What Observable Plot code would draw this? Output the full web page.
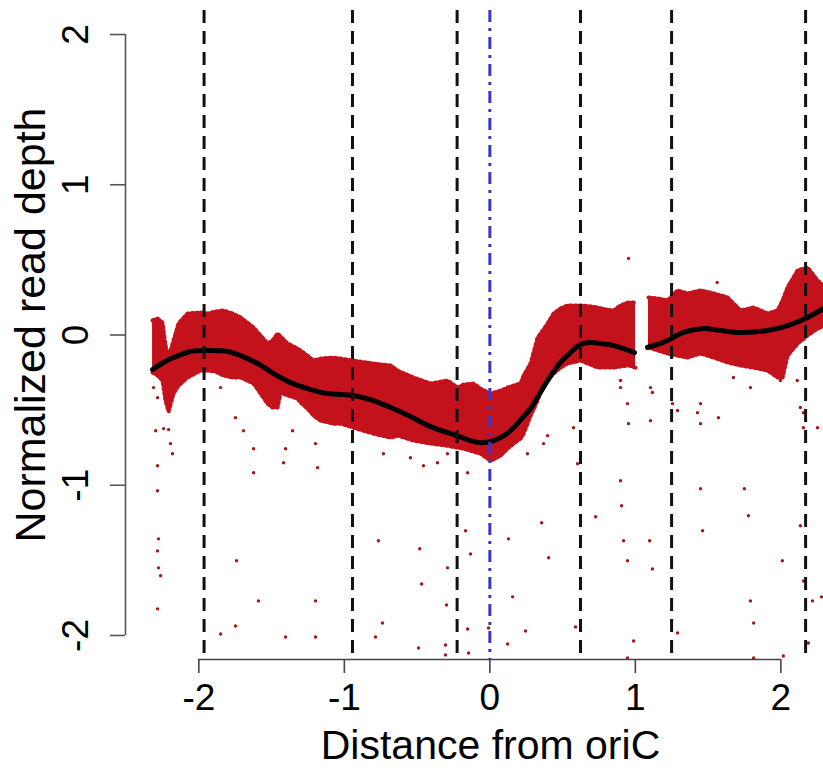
<!DOCTYPE html>
<html><head><meta charset="utf-8">
<script src="https://cdn.jsdelivr.net/npm/d3@7"></script>
<script src="https://cdn.jsdelivr.net/npm/@observablehq/plot@0.6"></script>
<style>body{margin:0;background:#fff} svg{display:block}</style>
</head><body><div id="chart"></div>
<script>
// ---- axes ----
const xTicks = [-2, -1, 0, 1, 2];
const yTicks = [-2, -1, 0, 1, 2];
const xDomain = [-2.504, 2.293];
const yDomain = [-2.16, 2.16];
const xLabel = "Distance from oriC";
const yLabel = "Normalized read depth";

// ---- reference lines ----
const dashedX = [-1.964, -0.944, -0.225, 0.623, 1.249, 2.170];
const oriCX = [0];

// ---- dense band of read depth (upper / lower envelope), left arm ----
const bandLeftX  = [-2.318,-2.284,-2.250,-2.229,-2.208,-2.174,-2.140,-2.078,-1.988,-1.940,-1.885,-1.830,-1.768,-1.713,-1.624,-1.576,-1.528,-1.494,-1.459,-1.438,-1.390,-1.322,-1.301,-1.253,-1.212,-1.164,-1.075,-1.026,-0.937,-0.800,-0.682,-0.634,-0.524,-0.407,-0.291,-0.222,-0.181,-0.112,-0.064,0.005,0.074,0.121,0.163,0.211,0.232,0.280,0.328,0.349,0.397,0.438,0.486,0.534,0.623,0.692,0.740,0.795,0.850,0.898,0.953,1.001];
const bandLeftHi = [0.097,0.110,0.083,-0.070,-0.150,-0.037,0.077,0.143,0.150,0.143,0.157,0.163,0.143,0.117,0.050,-0.003,-0.057,-0.037,0.010,-0.010,-0.057,-0.090,-0.103,-0.137,-0.170,-0.157,-0.150,-0.157,-0.170,-0.190,-0.203,-0.237,-0.283,-0.323,-0.303,-0.350,-0.330,-0.323,-0.357,-0.390,-0.370,-0.350,-0.337,-0.323,-0.270,-0.190,-0.017,0.010,0.077,0.143,0.177,0.197,0.197,0.190,0.183,0.170,0.163,0.197,0.217,0.217];
const bandLeftLo = [-0.250,-0.270,-0.303,-0.437,-0.510,-0.390,-0.337,-0.283,-0.237,-0.237,-0.243,-0.270,-0.283,-0.283,-0.323,-0.390,-0.457,-0.483,-0.483,-0.383,-0.403,-0.423,-0.450,-0.490,-0.537,-0.570,-0.590,-0.590,-0.617,-0.657,-0.683,-0.670,-0.703,-0.723,-0.737,-0.750,-0.757,-0.777,-0.790,-0.837,-0.803,-0.757,-0.723,-0.690,-0.657,-0.537,-0.437,-0.370,-0.303,-0.257,-0.217,-0.190,-0.170,-0.197,-0.217,-0.217,-0.217,-0.210,-0.203,-0.217];

// ---- band, right arm ----
const bandRightX  = [1.090,1.153,1.221,1.290,1.359,1.448,1.537,1.634,1.723,1.813,1.909,1.977,2.012,2.046,2.115,2.184,2.252,2.350];
const bandRightHi = [0.250,0.243,0.230,0.297,0.277,0.297,0.277,0.250,0.163,0.183,0.143,0.163,0.230,0.317,0.430,0.450,0.363,0.280];
const bandRightLo = [-0.083,-0.103,-0.123,-0.137,-0.150,-0.123,-0.150,-0.183,-0.203,-0.217,-0.237,-0.283,-0.283,-0.137,-0.057,-0.003,0.043,0.080];

// ---- smoothed fit ----
const fitLeftX = [-2.318,-2.243,-2.174,-2.057,-1.940,-1.803,-1.713,-1.596,-1.486,-1.369,-1.253,-1.116,-0.937,-0.800,-0.682,-0.545,-0.407,-0.229,-0.133,-0.064,0.025,0.108,0.163,0.225,0.280,0.335,0.397,0.486,0.555,0.623,0.692,0.761,0.850,0.953,0.994];
const fitLeftY = [-0.230,-0.183,-0.150,-0.110,-0.103,-0.110,-0.137,-0.190,-0.257,-0.317,-0.357,-0.390,-0.403,-0.437,-0.483,-0.543,-0.610,-0.670,-0.703,-0.717,-0.703,-0.663,-0.617,-0.550,-0.490,-0.403,-0.303,-0.183,-0.117,-0.063,-0.050,-0.057,-0.070,-0.103,-0.117];
const fitRightX = [1.083,1.153,1.221,1.331,1.468,1.585,1.723,1.909,2.046,2.184,2.293];
const fitRightY = [-0.083,-0.063,-0.037,0.017,0.043,0.030,0.017,0.030,0.063,0.117,0.177];

// ---- scattered low-depth bins ----
const outX = [-2.297,-2.242,-2.208,-2.195,-2.181,-2.284,-2.284,-2.277,-2.284,-2.277,-2.263,-2.284,-2.311,-2.284,-1.851,-1.748,-1.693,-1.624,-1.624,-1.404,-1.418,-1.356,-1.198,-1.184,-0.731,-0.546,-0.456,-0.360,-0.291,-0.153,0.259,0.369,0.397,0.575,0.603,0.898,0.898,0.946,0.953,0.953,1.562,1.104,1.117,1.104,1.255,1.290,1.448,1.427,1.448,1.571,1.674,1.791,1.997,2.113,2.134,2.155,2.155,2.252,
  -1.850,-1.748,-1.404,-1.198,-0.786,-0.738,-0.490,-0.305,-0.305,-0.153,-0.146,-0.009,0.122,0.245,0.589,0.988,0.946,1.290,1.813,1.813,2.017,2.189,
  -0.482,-0.469,-0.291,-0.298,-0.167,-0.133,0.128,0.156,0.356,0.404,0.727,0.898,0.905,0.919,0.946,1.098,1.117,1.448,1.462,1.749,1.777,1.791,2.010,2.134,2.155,2.217,2.279,-1.741,-1.590,-1.198,-0.766];
const outY = [-0.637,-0.623,-0.630,-0.723,-0.790,-0.870,-1.037,-1.357,-1.437,-1.550,-1.603,-1.823,-0.350,-0.417,-0.350,-0.550,-0.637,-0.757,-0.917,-0.757,-0.850,-0.637,-0.723,-0.883,-0.790,-0.817,-0.870,-0.850,-0.790,-0.917,-0.790,-0.723,-0.670,-0.617,-0.857,-0.303,-0.350,-0.457,-0.590,0.510,0.350,-0.350,-0.383,-0.570,-0.457,-0.503,-0.457,-0.517,-0.590,-0.550,-0.283,-0.350,-0.303,-0.303,-0.483,-0.517,-0.617,-0.617,
  -1.990,-1.937,-2.010,-2.010,-2.010,-1.917,-2.083,-2.063,-2.130,-1.957,-2.117,-1.950,-2.057,-1.970,-1.943,-2.037,-2.150,-1.983,-1.917,-2.150,-2.137,-2.050,
  -1.423,-1.657,-1.550,-1.797,-1.303,-1.457,-1.357,-1.743,-1.250,-1.483,-1.210,-0.970,-1.137,-1.370,-1.503,-1.370,-1.557,-1.023,-1.303,-1.023,-1.203,-1.770,-1.503,-1.270,-1.637,-1.770,-1.743,-1.503,-1.770,-1.770,-1.370];

const RED = "#c4121c";
const DOT = "#a3161c";
const band = [
  ...bandLeftX.map((x, i) => ({seg: "L", x, hi: bandLeftHi[i], lo: bandLeftLo[i]})),
  ...bandRightX.map((x, i) => ({seg: "R", x, hi: bandRightHi[i], lo: bandRightLo[i]}))
];
const fit = [
  ...fitLeftX.map((x, i) => ({seg: "L", x, y: fitLeftY[i]})),
  ...fitRightX.map((x, i) => ({seg: "R", x, y: fitRightY[i]}))
];
const outliers = outX.map((x, i) => ({x, y: outY[i]}));

const chart = Plot.plot({
  width: 823, height: 771,
  marginLeft: 125, marginRight: 0, marginTop: 10, marginBottom: 112,
  style: {fontFamily: "'Liberation Sans', Arial, Helvetica, sans-serif", background: "#fff"},
  x: {domain: xDomain, axis: null},
  y: {domain: yDomain, axis: null},
  marks: [
    Plot.areaY(band, {x: "x", y1: "lo", y2: "hi", z: "seg", fill: RED, curve: "linear", clip: true}),
    Plot.lineY(band, {x: "x", y: "hi", z: "seg", stroke: RED, strokeWidth: 4, strokeDasharray: "2,3", clip: true}),
    Plot.lineY(band, {x: "x", y: "lo", z: "seg", stroke: RED, strokeWidth: 4, strokeDasharray: "2,3", clip: true}),
    Plot.dot(outliers, {x: "x", y: "y", r: 1.7, fill: DOT, clip: true}),
    Plot.line(fit, {x: "x", y: "y", z: "seg", stroke: "#000", strokeWidth: 5, curve: "catmull-rom", clip: true}),
    Plot.ruleX(dashedX, {stroke: "#111", strokeWidth: 3, strokeDasharray: "13,8"}),
    Plot.ruleX(oriCX, {stroke: "#3838c8", strokeWidth: 3, strokeDasharray: "12,6,3,6"}),
    // axis lines
    Plot.ruleY([yDomain[0]], {x1: xTicks[0], x2: xTicks[xTicks.length - 1], stroke: "#444", strokeWidth: 1.6}),
    Plot.ruleX([xDomain[0]], {y1: yTicks[0], y2: yTicks[yTicks.length - 1], stroke: "#555", strokeWidth: 1.6}),
    Plot.axisX(xTicks, {tickSize: 14, tickPadding: 10, fontSize: 37, tickFormat: d => String(d), label: null, stroke: "#444", strokeWidth: 1.6, color: "#000"}),
    Plot.axisY(yTicks, {tickSize: 15, tickFormat: () => "", label: null, stroke: "#555", strokeWidth: 1.6}),
    Plot.text(yTicks, {y: d => d, text: d => String(d), frameAnchor: "left", dx: -49, rotate: -90, fontSize: 37, fill: "#000", lineAnchor: "middle", textAnchor: "middle"}),
    Plot.text([yLabel], {frameAnchor: "left", dx: -94, dy: -10, rotate: -90, fontSize: 43, fill: "#000", lineAnchor: "middle", textAnchor: "middle"}),
    Plot.text([xLabel], {frameAnchor: "bottom", dx: 16, dy: 86, fontSize: 41, fill: "#000", lineAnchor: "middle", textAnchor: "middle"})
  ]
});
document.getElementById("chart").append(chart);
</script>
</body></html>
